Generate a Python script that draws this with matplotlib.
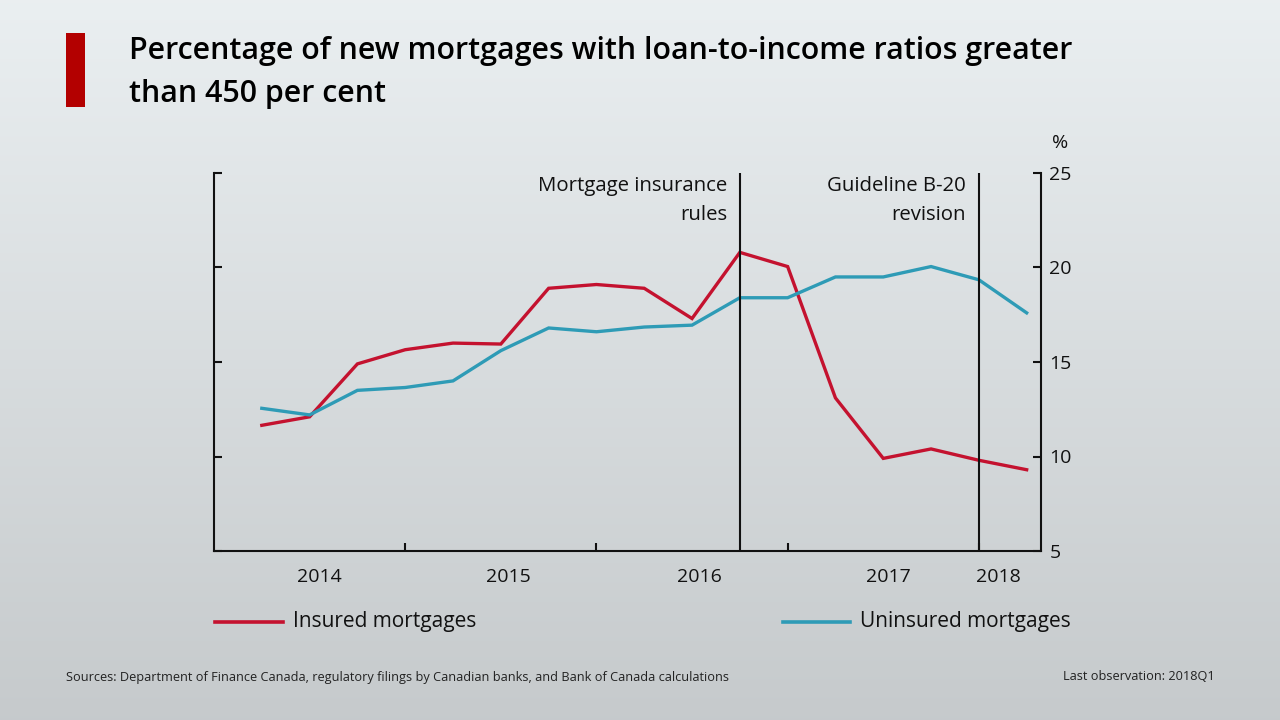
import matplotlib
matplotlib.use("Agg")
import matplotlib.pyplot as plt
import numpy as np
from matplotlib.lines import Line2D
from matplotlib.patches import Rectangle

plt.rcParams['font.family'] = ['Open Sans', 'DejaVu Sans']

quarters = ["2014Q1", "2014Q2", "2014Q3", "2014Q4", "2015Q1", "2015Q2", "2015Q3", "2015Q4",
            "2016Q1", "2016Q2", "2016Q3", "2016Q4", "2017Q1", "2017Q2", "2017Q3", "2017Q4", "2018Q1"]
insured = [11.65, 12.1, 14.9, 15.65, 16.0, 15.95, 18.9, 19.1, 18.9, 17.3, 20.8, 20.05,
           13.1, 9.9, 10.4, 9.8, 9.3]
uninsured = [12.55, 12.2, 13.5, 13.65, 14.0, 15.6, 16.8, 16.6, 16.85, 16.95, 18.4, 18.4,
             19.5, 19.5, 20.05, 19.35, 17.6]
year_labels = ["2014", "2015", "2016", "2017", "2018"]
y_ticks = [5, 10, 15, 20, 25]
events = ["Mortgage insurance\nrules", "Guideline B-20\nrevision"]
event_quarters = ["2016Q3", "2017Q4"]

RED = "#c4122f"
BLUE = "#2e9bb6"

fig = plt.figure(figsize=(12.8, 7.2), dpi=100)

# gradient background
bg = fig.add_axes([0, 0, 1, 1], zorder=-10)
grad = np.linspace(0, 1, 256).reshape(-1, 1)
top = np.array([0.918, 0.937, 0.945])
bot = np.array([0.776, 0.792, 0.800])
img = top[None, None, :] * (1 - grad[..., None]) + bot[None, None, :] * grad[..., None]
bg.imshow(img, aspect='auto', extent=[0, 1, 0, 1], origin='upper')
bg.axis('off')

ax = fig.add_axes([214/1280, 1-551/720, (1041-214)/1280, (551-173)/720])
ax.patch.set_alpha(0)
x = np.arange(len(quarters))
ax.plot(x, insured, color=RED, lw=2.4, solid_joinstyle='miter')
ax.plot(x, uninsured, color=BLUE, lw=2.4, solid_joinstyle='miter')

ax.set_xlim(-1.0, 16.3)
ax.set_ylim(5, 25)

ax.spines['top'].set_visible(False)
for s in ['left', 'right', 'bottom']:
    ax.spines[s].set_linewidth(1.5)
    ax.spines[s].set_color('#111111')

# y ticks both sides, labels on right
ax.set_yticks(y_ticks)
ax.tick_params(axis='y', which='major', direction='in', length=6, width=1.5,
               left=True, right=True, labelleft=False, labelright=True,
               labelsize=14, pad=6, colors='#111111')
# x ticks at year boundaries, labels at year centres
ax.set_xticks([3, 7, 11, 15])
ax.set_xticklabels([])
ax.tick_params(axis='x', which='major', direction='in', length=6, width=1.5, colors='#111111')
ax.set_xticks([1.2, 5.15, 9.15, 13.1, 15.4], minor=True)
ax.set_xticklabels(year_labels, minor=True)
ax.tick_params(axis='x', which='minor', length=0, labelsize=14, pad=12, colors='#111111')

for lab, q in zip(events, event_quarters):
    xi = quarters.index(q)
    ax.axvline(xi, color='#111111', lw=1.5, ymin=0, ymax=1)
    ax.text(xi - 0.27, 24.85, lab, ha='right', va='top', fontsize=14.7, color='#111111',
            linespacing=1.6)

fig.text(1060/1280, 1-143/720, "%", ha='center', va='center', fontsize=14, color='#111111')

# title and red bar
fig.add_artist(Rectangle((66/1280, 1-107/720), 19/1280, 74/720, transform=fig.transFigure,
                         color='#b30000', lw=0))
fig.text(129/1280, 1-51/720, "Percentage of new mortgages with loan-to-income ratios greater",
         ha='left', va='center', fontsize=21.9, fontweight='semibold', color='#000000')
fig.text(129/1280, 1-94/720, "than 450 per cent",
         ha='left', va='center', fontsize=21.9, fontweight='semibold', color='#000000')

# legend
fig.add_artist(Line2D([215/1280, 283/1280], [1-622/720]*2, transform=fig.transFigure,
                      color=RED, lw=2.6))
fig.text(293/1280, 1-621/720, "Insured mortgages", ha='left', va='center', fontsize=15, color='#111111')
fig.add_artist(Line2D([783/1280, 850/1280], [1-622/720]*2, transform=fig.transFigure,
                      color=BLUE, lw=2.6))
fig.text(860/1280, 1-621/720, "Uninsured mortgages", ha='left', va='center', fontsize=15, color='#111111')

fig.text(66/1280, 1-677/720,
         "Sources: Department of Finance Canada, regulatory filings by Canadian banks, and Bank of Canada calculations",
         ha='left', va='center', fontsize=9.15, color='#222222')
fig.text(1215/1280, 1-677/720, "Last observation: 2018Q1", ha='right', va='center',
         fontsize=9.2, color='#222222')

fig.savefig("out.png", dpi=100)
